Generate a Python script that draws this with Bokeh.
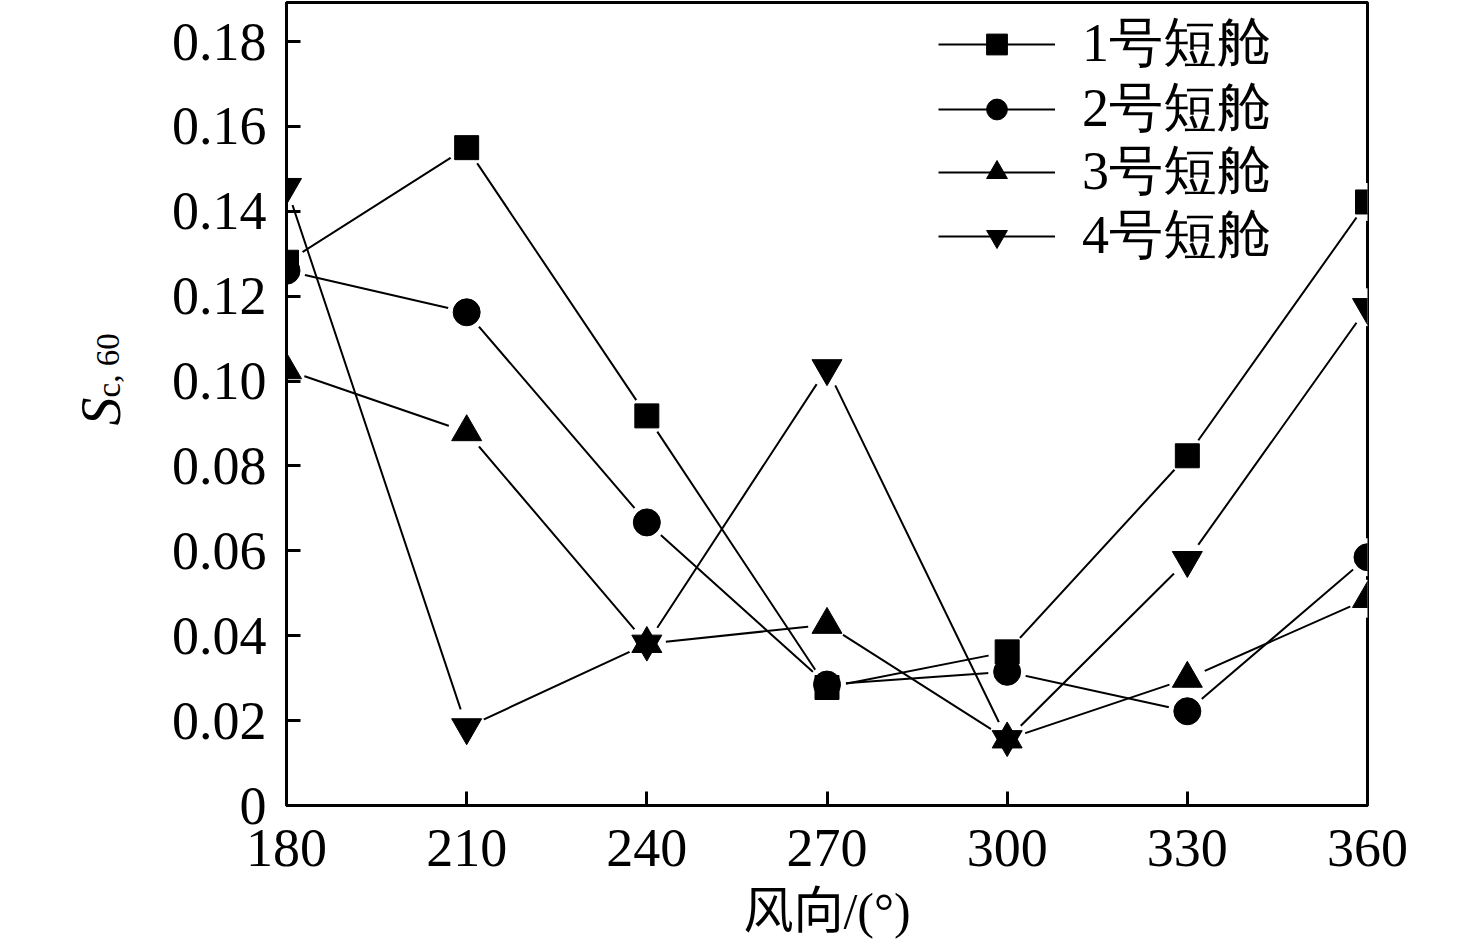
from bokeh.plotting import figure
from bokeh.models import (FixedTicker, Legend, LegendItem, Label, Range1d,
                          PrintfTickFormatter)
from bokeh.embed import file_html
from bokeh.resources import INLINE

# ---- data ----
wind_dir = [180, 210, 240, 270, 300, 330, 360]
nacelle_1 = [0.128, 0.155, 0.0918, 0.0278, 0.0362, 0.0824, 0.1422]
nacelle_2 = [0.126, 0.1162, 0.0667, 0.0285, 0.0315, 0.0222, 0.0585]
nacelle_3 = [0.1026, 0.088, 0.0381, 0.0426, 0.0156, 0.0299, 0.0487]
nacelle_4 = [0.1457, 0.0184, 0.0381, 0.103, 0.0156, 0.0578, 0.1174]
series_labels = ["1号短舱", "2号短舱", "3号短舱", "4号短舱"]
x_ticks = [180, 210, 240, 270, 300, 330, 360]
y_ticks = [0, 0.02, 0.04, 0.06, 0.08, 0.10, 0.12, 0.14, 0.16, 0.18]
x_label = "风向/(°)"

SERIF = "Liberation Serif"
MIXED = "Liberation Serif, Noto Sans CJK SC"

p = figure(width=1476, height=948, output_backend="svg", toolbar_location=None,
           x_range=Range1d(180, 360), y_range=Range1d(0, 0.1892),
           min_border_left=286, min_border_right=109, min_border_top=2,
           min_border_bottom=143)
p.grid.visible = False
p.outline_line_color = "black"
p.outline_line_width = 3
p.background_fill_color = "white"
p.border_fill_color = "white"

for ax in (p.xaxis[0], p.yaxis[0]):
    ax.axis_line_width = 3
    ax.axis_line_color = "black"
    ax.major_tick_in = 14
    ax.major_tick_out = 0
    ax.major_tick_line_width = 3
    ax.major_tick_line_color = "black"
    ax.minor_tick_line_color = None
    ax.major_label_text_font = SERIF
    ax.major_label_text_font_size = "54px"
    ax.major_label_text_color = "black"

p.xaxis.ticker = FixedTicker(ticks=x_ticks)
p.yaxis.ticker = FixedTicker(ticks=y_ticks)
p.yaxis.formatter = PrintfTickFormatter(format="%.2f")
p.yaxis.major_label_overrides = {0: "0"}
p.xaxis.major_label_standoff = 24
p.yaxis.major_label_standoff = 20

p.xaxis.axis_label = x_label
p.xaxis.axis_label_text_font = MIXED
p.xaxis.axis_label_text_font_size = "50px"
p.xaxis.axis_label_text_font_style = "normal"
p.xaxis.axis_label_text_color = "black"
p.xaxis.axis_label_standoff = 14

series = [nacelle_1, nacelle_2, nacelle_3, nacelle_4]
markers = ["square", "circle", "triangle", "inverted_triangle"]
sizes = [24, 27, 30, 30]

line_rs = []
for ys in series:
    line_rs.append(p.line(wind_dir, ys, line_color="black", line_width=2))
for ys in series:
    p.scatter(wind_dir, ys, marker="circle", size=38, fill_color="white",
              line_color=None)
marker_rs = []
for ys, m, s in zip(series, markers, sizes):
    marker_rs.append(p.scatter(wind_dir, ys, marker=m, size=s, fill_color="black",
                               line_color="black", line_width=1))

# one legend box per entry so the rows can sit at the reference spacing
legend_rows = [725, 660, 597, 533]
for lab, lr, mr, vy in zip(series_labels, line_rs, marker_rs, legend_rows):
    lg = Legend(items=[LegendItem(label=lab, renderers=[lr, mr])],
                location=(652, vy), margin=0, padding=0, spacing=0,
                glyph_width=117, glyph_height=52, label_height=52,
                label_standoff=27,
                label_text_font=SERIF, label_text_font_size="54px",
                label_text_color="black",
                border_line_color=None, background_fill_alpha=0)
    p.add_layout(lg)

# y-axis title S_{c,60} (placed in the left side panel so it is not clipped)
p.add_layout(Label(x=100, y=425, x_units="canvas", y_units="canvas", text="S",
                   angle=1.5708, text_font=SERIF, text_font_style="italic",
                   text_font_size="56px", text_color="black",
                   text_baseline="alphabetic", text_align="left"), "left")
p.add_layout(Label(x=108, y=397, x_units="canvas", y_units="canvas", text="c, 60",
                   angle=1.5708, text_font=SERIF, text_font_size="33px",
                   text_color="black", text_baseline="alphabetic",
                   text_align="left"), "left")

open("out.html", "w").write(file_html(p, INLINE))
